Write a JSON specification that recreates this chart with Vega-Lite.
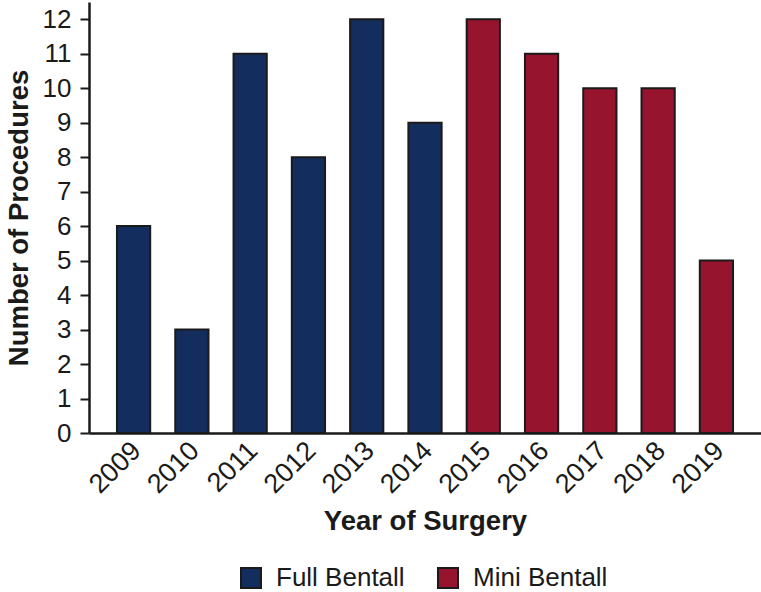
{
  "$schema": "https://vega.github.io/schema/vega-lite/v6.json",
  "autosize": "none",
  "width": 672,
  "height": 431,
  "padding": {"left": 89, "top": 2, "right": 0, "bottom": 159},
  "background": "white",
  "config": {
    "view": {"stroke": null},
    "font": "Liberation Sans",
    "axis": {"grid": false, "domainColor": "#1a1a1a", "domainWidth": 2.5, "tickColor": "#1a1a1a", "tickWidth": 2, "labelColor": "#1a1a1a", "titleColor": "#1a1a1a", "labelFont": "Liberation Sans", "titleFont": "Liberation Sans"}
  },
  "data": {
    "values": [
      {"year": "2009", "count": 6, "type": "Full Bentall"},
      {"year": "2010", "count": 3, "type": "Full Bentall"},
      {"year": "2011", "count": 11, "type": "Full Bentall"},
      {"year": "2012", "count": 8, "type": "Full Bentall"},
      {"year": "2013", "count": 12, "type": "Full Bentall"},
      {"year": "2014", "count": 9, "type": "Full Bentall"},
      {"year": "2015", "count": 12, "type": "Mini Bentall"},
      {"year": "2016", "count": 11, "type": "Mini Bentall"},
      {"year": "2017", "count": 10, "type": "Mini Bentall"},
      {"year": "2018", "count": 10, "type": "Mini Bentall"},
      {"year": "2019", "count": 5, "type": "Mini Bentall"}
    ]
  },
  "mark": {"type": "bar", "stroke": "#1a1a1a", "strokeWidth": 2},
  "encoding": {
    "x": {
      "field": "year", "type": "ordinal",
      "scale": {"paddingInner": 0.43, "paddingOuter": 0.48},
      "axis": {"title": "Year of Surgery", "titleFontSize": 27.5, "titleFontWeight": "bold", "titlePadding": 10, "labelAngle": -45, "labelFontSize": 27, "ticks": false, "labelPadding": 4, "labelOffset": -6}
    },
    "y": {
      "field": "count", "type": "quantitative",
      "scale": {"domain": [0, 12.5], "nice": false},
      "axis": {"title": "Number of Procedures", "titleFontSize": 27.5, "titleFontWeight": "bold", "titlePadding": 9, "values": [0,1,2,3,4,5,6,7,8,9,10,11,12], "labelFontSize": 26, "tickSize": 9, "labelPadding": 9}
    },
    "color": {
      "field": "type", "type": "nominal",
      "scale": {"domain": ["Full Bentall", "Mini Bentall"], "range": ["#142d5f", "#97142f"]},
      "legend": {"title": null, "orient": "none", "direction": "horizontal", "legendX": 149, "legendY": 563, "symbolType": "square", "symbolSize": 400, "symbolStrokeColor": "#1a1a1a", "symbolStrokeWidth": 2, "labelFontSize": 26, "labelColor": "#1a1a1a", "labelOffset": 12, "columnPadding": 29, "symbolOpacity": 1, "labelLimit": 300}
    }
  }
}
